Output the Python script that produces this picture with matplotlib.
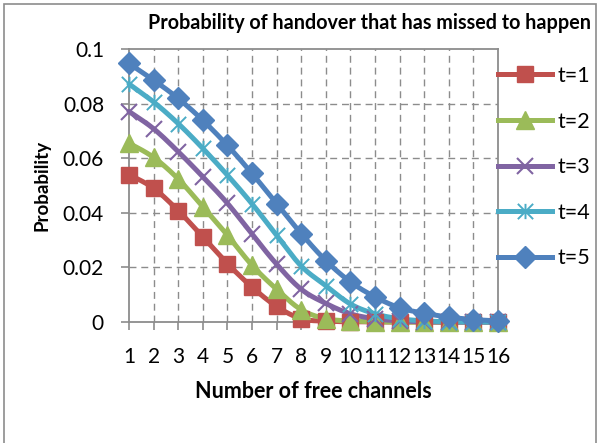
import matplotlib
matplotlib.use("Agg")
import matplotlib.pyplot as plt
import numpy as np
from matplotlib.path import Path
from matplotlib.patches import Rectangle

plt.rcParams["font.family"] = ["Lato", "DejaVu Sans"]

channels = list(range(1, 17))
labels = ["t=1", "t=2", "t=3", "t=4", "t=5"]
t1 = [0.0540, 0.0490, 0.0408, 0.0312, 0.0214, 0.0128, 0.0057, 0.0012,
      0.0003, 0.0001, 0, 0, 0, 0, 0, 0]
t2 = [0.0655, 0.0603, 0.0524, 0.0422, 0.0318, 0.0208, 0.0120, 0.0045,
      0.0012, 0.0004, 0.0001, 0, 0, 0, 0, 0]
t3 = [0.0771, 0.0708, 0.0624, 0.0532, 0.0435, 0.0322, 0.0212, 0.0120,
      0.0068, 0.0030, 0.0012, 0.0004, 0.0001, 0, 0, 0]
t4 = [0.0872, 0.0806, 0.0727, 0.0636, 0.0538, 0.0433, 0.0318, 0.0205,
      0.0133, 0.0066, 0.0030, 0.0012, 0.0004, 0.0001, 0, 0]
t5 = [0.0947, 0.0886, 0.0819, 0.0739, 0.0647, 0.0544, 0.0434, 0.0324,
      0.0225, 0.0147, 0.0092, 0.0052, 0.0032, 0.0018, 0.0009, 0.0004]

COLORS = ["#C0504D", "#9BBB59", "#8064A2", "#4BACC6", "#4F81BD"]

# excel-style "star" marker: an x with a vertical bar
STAR = Path([(0, -1), (0, 1), (-1, -1), (1, 1), (-1, 1), (1, -1)],
            [Path.MOVETO, Path.LINETO] * 3)
MARKERS = [
    dict(marker="s", ms=12),
    dict(marker="^", ms=13),
    dict(marker="x", ms=11, mew=1.5),
    dict(marker=STAR, ms=11, mew=1.4),
    dict(marker="D", ms=11),
]


def smooth(x, y, n=12):
    # catmull-rom curve through the points, like excel's smoothed line
    x = np.asarray(x, float)
    y = np.asarray(y, float)
    px = np.concatenate([[x[0]], x, [x[-1]]])
    py = np.concatenate([[y[0]], y, [y[-1]]])
    xs, ys = [], []
    s = np.linspace(0, 1, n, endpoint=False)
    for i in range(1, len(px) - 2):
        for p, out in ((px, xs), (py, ys)):
            p0, p1, p2, p3 = p[i - 1], p[i], p[i + 1], p[i + 2]
            out.extend(0.5 * (2 * p1 + (-p0 + p2) * s
                              + (2 * p0 - 5 * p1 + 4 * p2 - p3) * s ** 2
                              + (-p0 + 3 * p1 - 3 * p2 + p3) * s ** 3))
    xs.append(x[-1])
    ys.append(y[-1])
    return np.array(xs), np.array(ys)


fig = plt.figure(figsize=(5.99, 4.43), dpi=100)
fig.patches.append(Rectangle((4 / 599, -0.01), 592 / 599, 1 - 4 / 443 + 0.01,
                             transform=fig.transFigure, fill=False,
                             ec="#8c8c8c", lw=1.2))
ax = fig.add_axes([129 / 599, 1 - 322 / 443, 369 / 599, 273 / 443])

grid_kw = dict(color="#8c8c8c", lw=1.0, dashes=(5, 3.5), zorder=1)
for xv in channels[1:-1]:
    ax.axvline(xv, **grid_kw)
for yv in [0.02, 0.04, 0.06, 0.08]:
    ax.axhline(yv, **grid_kw)

series = [t1, t2, t3, t4, t5]
handles = []
for vals, lab, col, mk in zip(series, labels, COLORS, MARKERS):
    sx, sy = smooth(channels, vals)
    ax.plot(sx, sy, color=col, lw=3.6, solid_capstyle="round", zorder=3,
            clip_on=False)
    ax.plot(channels, vals, ls="none", color=col, mfc=col, mec=col,
            zorder=4, clip_on=False, **mk)
    h, = ax.plot([], [], color=col, lw=3.6, mfc=col, mec=col, **mk)
    handles.append(h)

ax.set_xlim(1, 16)
ax.set_ylim(0, 0.1)
ax.set_xticks(channels)
ax.set_xticklabels([str(c) for c in channels])
ax.set_yticks([0, 0.02, 0.04, 0.06, 0.08, 0.1])
ax.set_yticklabels(["0", "0.02", "0.04", "0.06", "0.08", "0.1"])
ax.tick_params(axis="both", direction="out", length=6, width=1.2,
               color="#8c8c8c", labelsize=15)
ax.tick_params(axis="x", pad=12)
ax.tick_params(axis="y", pad=12)
for sp in ax.spines.values():
    sp.set_color("#8c8c8c")
    sp.set_linewidth(1.3)

ax.set_xlabel("Number of free channels", fontsize=15.5, fontweight="bold",
              labelpad=10)
ax.set_ylabel("Probability", fontsize=13.5, fontweight="bold", labelpad=9)
fig.text(369 / 599, 1 - 23 / 443, "Probability of handover that has missed to happen",
         ha="center", va="center", fontsize=14.2, fontweight="bold")

fig.legend(handles, labels, loc="upper left",
           bbox_to_anchor=(498 / 599, 1 - 66 / 443), frameon=False,
           fontsize=15.5, handlelength=2.5, handletextpad=0.25,
           labelspacing=1.19, borderpad=0, borderaxespad=0)

fig.savefig("out.png", dpi=100)
